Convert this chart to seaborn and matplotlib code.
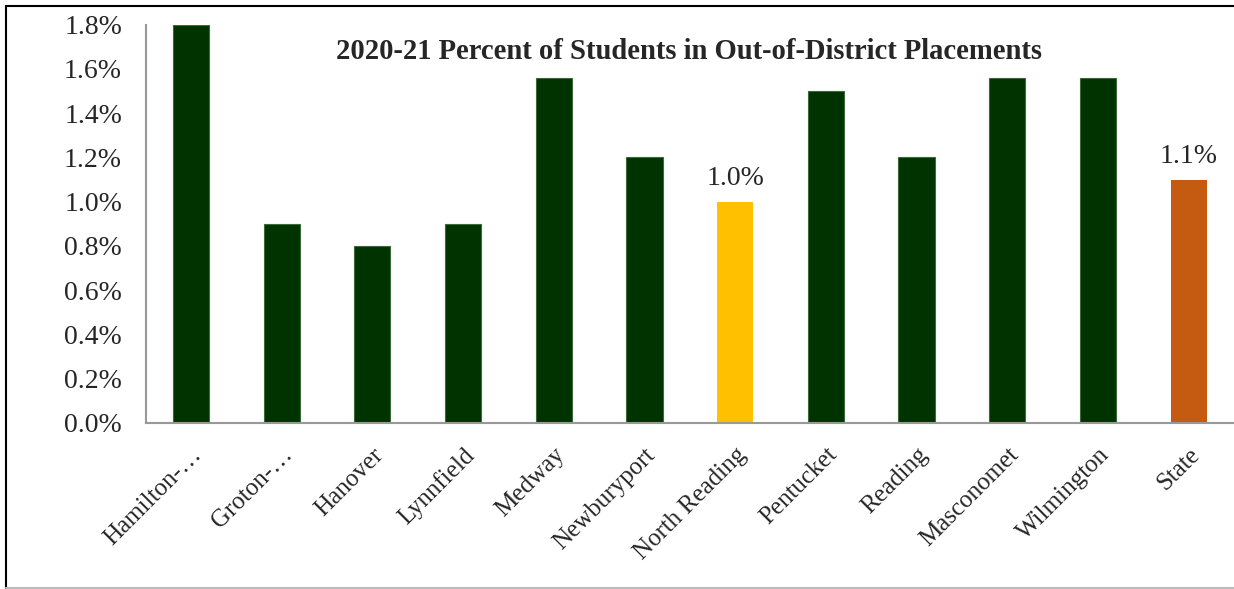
import matplotlib
matplotlib.use("Agg")
import matplotlib.pyplot as plt
import seaborn as sns
import pandas as pd
from matplotlib.lines import Line2D
from matplotlib.ticker import FuncFormatter

districts = ["Hamilton-…", "Groton-…", "Hanover", "Lynnfield", "Medway", "Newburyport",
             "North Reading", "Pentucket", "Reading", "Masconomet", "Wilmington", "State"]
pct = [1.8, 0.9, 0.8, 0.9, 1.56, 1.2, 1.0, 1.5, 1.2, 1.56, 1.56, 1.1]
bar_colors = ["#003300"] * 6 + ["#FFC000"] + ["#003300"] * 4 + ["#C55A11"]
labelled = {"North Reading": "1.0%", "State": "1.1%"}

sns.set_style("white")
plt.rcParams['font.family'] = ['Liberation Serif', 'DejaVu Serif']

d = pd.DataFrame({"district": districts, "pct": pct})

fig = plt.figure(figsize=(12.34, 5.89), dpi=100)
ax = fig.add_axes([0.118, 0.282, 0.882, 0.676])
sns.barplot(data=d, x="district", y="pct", hue="district", palette=bar_colors,
            saturation=1, width=0.4, legend=False, ax=ax, linewidth=0)
for p, c in zip(ax.patches, bar_colors):
    if c == "#003300":
        p.set_edgecolor("#3a6a3a")
        p.set_linewidth(0.8)

ax.set_ylim(0, 1.8)
ax.set_xlim(-0.5, len(districts) - 0.5)
ax.set_yticks([i * 0.2 for i in range(10)])
ax.yaxis.set_major_formatter(FuncFormatter(lambda v, p: f"{v:.1f}%"))
ax.set_xlabel("")
ax.set_ylabel("")
ax.tick_params(axis="y", labelsize=20, length=8, color="#999999", width=1.5, pad=9)
ax.set_xticks(range(len(districts)))
ax.set_xticklabels(districts, rotation=45, ha="right", rotation_mode="anchor", fontsize=18)
ax.tick_params(axis="x", length=0, pad=15)
ax.set_xticks([i + 0.5 for i in range(-1, len(districts))], minor=True)
ax.tick_params(axis="x", which="minor", length=8, color="#999999", width=1.5)
for s in ["top", "right"]:
    ax.spines[s].set_visible(False)
for s in ["left", "bottom"]:
    ax.spines[s].set_color("#999999")
    ax.spines[s].set_linewidth(1.5)

for i, name in enumerate(districts):
    if name in labelled:
        ax.text(i, pct[i] + 0.05, labelled[name], ha="center", va="bottom", fontsize=20)

fig.text(0.558, 0.913, "2020-21 Percent of Students in Out-of-District Placements",
         ha="center", va="center", fontsize=20.6, fontweight="bold")

# frame around the chart
fig.add_artist(Line2D([0.005, 1.0], [0.990, 0.990], color="black", lw=1.5))
fig.add_artist(Line2D([0.005, 0.005], [0.0, 0.990], color="black", lw=1.5))
fig.add_artist(Line2D([0.005, 1.0], [0.002, 0.002], color="#bbbbbb", lw=1.5))

fig.savefig("out.png", dpi=100)
